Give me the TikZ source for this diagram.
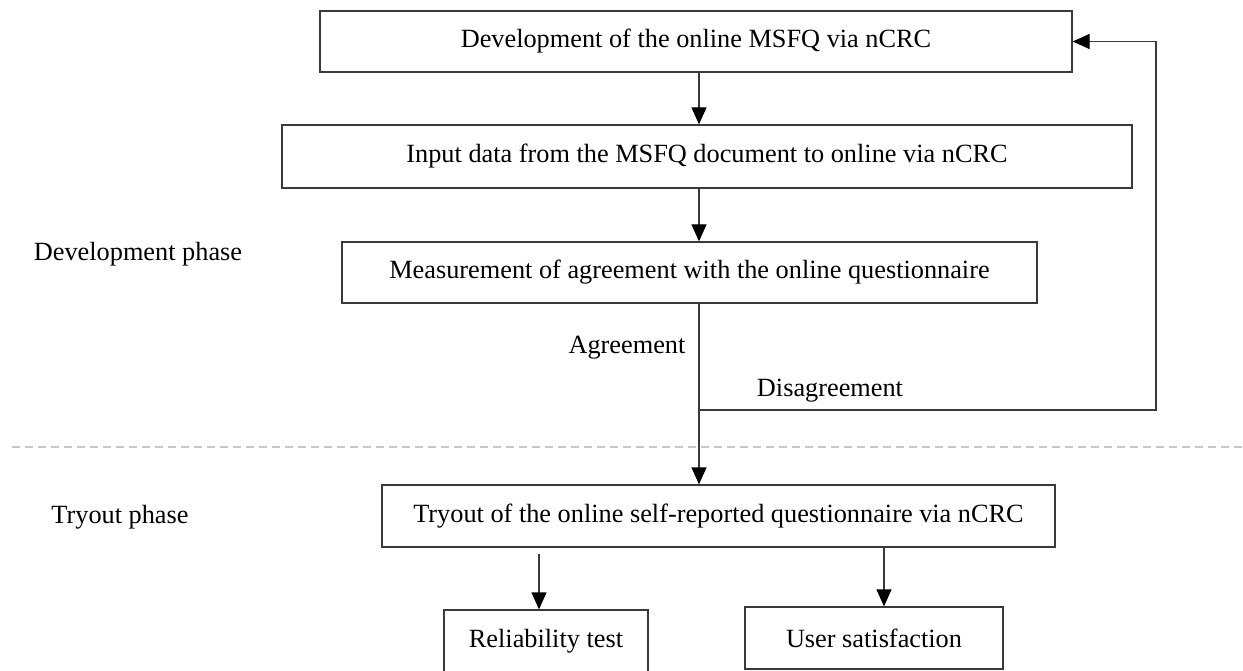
\documentclass[tikz,border=0pt]{standalone}
\usepackage{fontspec}
\setmainfont{Liberation Serif}
\usetikzlibrary{arrows.meta}
\definecolor{linecol}{HTML}{3A3A3A}
\definecolor{dashcol}{HTML}{C8C8C8}
\tikzset{
  boxnode/.style={draw=linecol, line width=1.3pt, inner sep=0pt, align=center,
    font=\fontsize{26.3}{30}\selectfont},
  lbl/.style={inner sep=0pt, font=\fontsize{26.3}{30}\selectfont},
  conn/.style={draw=linecol, line width=1.3pt},
  arr/.style={conn, -{Triangle[length=17pt,width=15pt,color=black]}},
  sepline/.style={draw=dashcol, line width=1.2pt, dash pattern=on 8pt off 5pt}
}
\begin{document}
\begin{tikzpicture}[x=1pt,y=-1pt]
\useasboundingbox[fill=white] (0,0) rectangle (1243,671);
% boxes
\node[boxnode, minimum width=752pt, minimum height=61pt] (b1) at (696,41.5) {Development of the online MSFQ via nCRC};
\node[boxnode, minimum width=850pt, minimum height=63pt] (b2) at (707,156.5) {Input data from the MSFQ document to online via nCRC};
\node[boxnode, minimum width=695pt, minimum height=61pt] (b3) at (689.5,272.5) {Measurement of agreement with the online questionnaire};
\node[boxnode, minimum width=673pt, minimum height=62pt] (b4) at (718.5,516) {Tryout of the online self-reported questionnaire via nCRC};
\node[boxnode, minimum width=204pt, minimum height=62pt] (b5) at (546,641) {Reliability test};
\node[boxnode, minimum width=258pt, minimum height=62pt] (b6) at (874,638) {User satisfaction};
% side labels
\node[lbl] (devphase) at (138,254) {Development phase};
\node[lbl] (tryphase) at (120,517) {Tryout phase};
\node[lbl] (agree) at (627,348) {Agreement};
\node[lbl] (disagree) at (830,391) {Disagreement};
% helper coordinates
\coordinate (jx) at (699,410);
\coordinate (loopc) at (1156,410);
\coordinate (c5) at (539,0);
\coordinate (c6) at (884,0);
\coordinate (dl) at (12,447);
\coordinate (dr) at (1243,447);
% separator
\draw[sepline] (dl) -- (dr);
% connectors
\draw[arr] (jx |- b1.south) -- (jx |- b2.north);
\draw[arr] (jx |- b2.south) -- (jx |- b3.north);
\draw[arr] (jx |- b3.south) -- (jx |- b4.north);
\draw[arr] (jx) -- (loopc) -- (loopc |- b1.east) -- (b1.east);
\draw[arr] ([yshift=-6pt]c5 |- b4.south) -- (c5 |- b5.north);
\draw[arr] (c6 |- b4.south) -- (c6 |- b6.north);
\end{tikzpicture}
\end{document}
